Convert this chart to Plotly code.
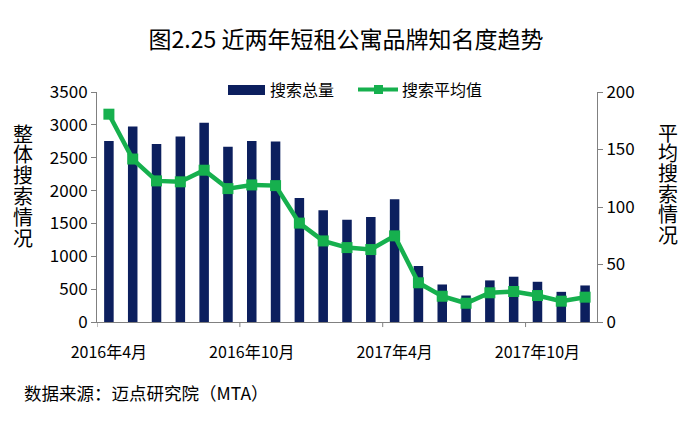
import plotly.graph_objects as go

# 数据 (2016年4月 ~ 2017年12月)
months = ['2016年4月', '2016年5月', '2016年6月', '2016年7月', '2016年8月', '2016年9月',
          '2016年10月', '2016年11月', '2016年12月', '2017年1月', '2017年2月', '2017年3月',
          '2017年4月', '2017年5月', '2017年6月', '2017年7月', '2017年8月', '2017年9月',
          '2017年10月', '2017年11月', '2017年12月']
total = [2755, 2975, 2709, 2821, 3031, 2668, 2755, 2745, 1888, 1699, 1556,
         1597, 1867, 852, 571, 403, 633, 689, 612, 459, 556]
avg = [180.7, 141.7, 122.7, 121.9, 132, 116, 119.2, 118.6, 86, 70.5, 64.7,
       63, 74.9, 34.1, 22.4, 16.3, 25.4, 26.5, 23, 18.1, 21.6]
tick_idx = [0, 6, 12, 18]

FONT = 'Noto Sans CJK SC'
NAVY, GREEN = '#0c1f5e', '#16b04e'
OFF = 8  # 页面 body 默认留白
W, H = 693 - OFF, 427 - OFF
L, R, T, B = 97 - OFF, 96, 92 - OFF, 105
xs = list(range(len(months)))


def px(x):  # 屏幕像素 -> paper
    return (x - OFF - L) / (W - L - R)


def py(y):
    return (H - B - (y - OFF)) / (H - T - B)


fig = go.Figure()
fig.add_trace(go.Bar(x=xs, y=total, name='搜索总量', marker=dict(color=NAVY, line=dict(width=0)),
                     width=0.4, yaxis='y'))
fig.add_trace(go.Scatter(x=xs, y=avg, name='搜索平均值', mode='lines+markers', yaxis='y2',
                         line=dict(color=GREEN, width=4.5),
                         marker=dict(symbol='square', size=11, color=GREEN)))

shapes = []
# 类别之间的刻度线
for i in tick_idx:
    shapes.append(dict(type='line', xref='x', yref='paper', x0=i - 0.5, x1=i - 0.5, y0=0, y1=-0.022,
                       line=dict(color='#808080', width=1)))
# 手绘图例
shapes.append(dict(type='rect', xref='paper', yref='paper', x0=px(228), x1=px(265),
                   y0=py(95), y1=py(85), fillcolor=NAVY, line=dict(width=0)))
shapes.append(dict(type='line', xref='paper', yref='paper', x0=px(358), x1=px(398),
                   y0=py(89.5), y1=py(89.5), line=dict(color=GREEN, width=4)))
shapes.append(dict(type='rect', xref='paper', yref='paper', x0=px(374), x1=px(383),
                   y0=py(94), y1=py(85), fillcolor=GREEN, line=dict(width=0)))

annotations = [
    dict(text='搜索总量', x=px(268), y=py(89.5), xanchor='left'),
    dict(text='搜索平均值', x=px(400), y=py(89.5), xanchor='left'),
    dict(text='数据来源：迈点研究院（MTA）', x=px(22), y=py(392), xanchor='left',
         font=dict(size=17.5)),
]
# 竖排轴标题，逐字摆放
for k, ch in enumerate('整体搜索情况'):
    annotations.append(dict(text=ch, x=px(23), y=py(133 + k * 20.8), xanchor='center',
                            font=dict(size=20)))
for k, ch in enumerate('平均搜索情况'):
    annotations.append(dict(text=ch, x=px(668), y=py(132 + k * 20.4), xanchor='center',
                            font=dict(size=20)))
for a in annotations:
    a.update(xref='paper', yref='paper', yanchor='middle', showarrow=False)
    a.setdefault('font', dict(size=16))

fig.update_layout(
    width=W, height=H, margin=dict(l=L, r=R, t=T, b=B),
    paper_bgcolor='white', plot_bgcolor='white',
    font=dict(family=FONT, color='black', size=15),
    title=dict(text='图2.25 近两年短租公寓品牌知名度趋势', x=px(346), xanchor='center',
               xref='paper', y=1 - (40 - OFF) / H, yanchor='middle', font=dict(size=23)),
    showlegend=False,
    xaxis=dict(range=[-0.5, len(months) - 0.5], tickvals=tick_idx,
               ticktext=[months[i] for i in tick_idx], ticks='', showgrid=False,
               showline=True, linecolor='#808080', linewidth=1, zeroline=False,
               ticklabelstandoff=16, tickfont=dict(size=16)),
    yaxis=dict(range=[0, 3500], dtick=500, showgrid=False, showline=True, linecolor='#808080',
               ticks='outside', ticklen=5, tickcolor='#808080', zeroline=False,
               tickfont=dict(size=17)),
    yaxis2=dict(range=[0, 200], dtick=50, overlaying='y', side='right', showgrid=False,
                showline=True, linecolor='#808080', ticks='outside', ticklen=5,
                tickcolor='#808080', zeroline=False, tickfont=dict(size=17)),
    shapes=shapes,
    annotations=annotations,
)

fig.write_html('out.html')
